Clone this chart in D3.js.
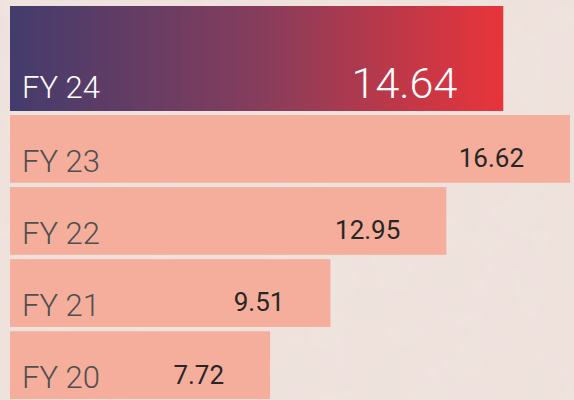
<!DOCTYPE html>
<html>
<head>
<meta charset="utf-8">
<script src="https://cdn.jsdelivr.net/npm/d3@7"></script>
<style>
    html, body { margin: 0; padding: 0; background: #efe3de; overflow: hidden; }
    svg { display: block; }
</style>
</head>
<body>
<div id="chart"></div>
<script>
const years = ['FY 24', 'FY 23', 'FY 22', 'FY 21', 'FY 20'];
const values = [14.64, 16.62, 12.95, 9.51, 7.72];
const labels = ['14.64', '16.62', '12.95', '9.51', '7.72'];

const width = 574;
const height = 400;

const svg = d3.select('#chart')
    .append('svg')
    .attr('width', width)
    .attr('height', height);

// subtle paper texture
const defs = svg.append('defs');
const paper = defs.append('filter').attr('id', 'paper')
    .attr('x', 0).attr('y', 0).attr('width', '100%').attr('height', '100%');
paper.append('feTurbulence')
    .attr('type', 'fractalNoise')
    .attr('baseFrequency', 0.02)
    .attr('numOctaves', 3)
    .attr('seed', 4);
paper.append('feColorMatrix')
    .attr('values', '0 0 0 0 0.80  0 0 0 0 0.68  0 0 0 0 0.66  0 0 0 0.10 0');

svg.append('rect').attr('width', width).attr('height', height).attr('fill', '#efe3de');
svg.append('rect').attr('width', width).attr('height', height).attr('filter', 'url(#paper)');

const grad = defs.append('linearGradient').attr('id', 'hl')
    .attr('x1', '0%').attr('x2', '100%').attr('y1', '0%').attr('y2', '0%');
grad.append('stop').attr('offset', '0%').attr('stop-color', '#433c6d');
grad.append('stop').attr('offset', '50%').attr('stop-color', '#853d5c');
grad.append('stop').attr('offset', '100%').attr('stop-color', '#e9343a');

const x = d3.scaleLinear()
    .domain([0, d3.max(values)])
    .range([10, 570]);

// first (highlighted) bar gets a taller row, the rest share a band scale
const y = d3.scaleBand()
    .domain(years.slice(1))
    .range([115, 399])
    .paddingInner(0.06);

const rows = years.map((yr, i) => ({
    year: yr,
    value: values[i],
    label: labels[i],
    top: i === 0 ? 6 : y(yr),
    h: i === 0 ? 105 : y.bandwidth(),
    first: i === 0
}));

const row = svg.append('g')
    .selectAll('g')
    .data(rows)
    .enter()
    .append('g');

row.append('rect')
    .attr('x', x(0))
    .attr('y', d => d.top)
    .attr('width', d => x(d.value) - x(0))
    .attr('height', d => d.h)
    .attr('fill', d => d.first ? 'url(#hl)' : '#f5ae9b');

row.append('text')
    .attr('x', 22)
    .attr('y', d => d.top + d.h - (d.first ? 13 : 11))
    .attr('font-family', 'Roboto')
    .attr('font-weight', 300)
    .attr('font-size', 31)
    .attr('fill', d => d.first ? '#ffffff' : '#4f4f4f')
    .text(d => d.year);

row.append('text')
    .attr('x', d => x(d.value) - 46)
    .attr('y', d => d.first ? d.top + d.h - 13 : d.top + d.h - 15.5)
    .attr('text-anchor', 'end')
    .attr('font-family', 'Roboto')
    .attr('font-weight', d => d.first ? 300 : 400)
    .attr('font-size', d => d.first ? 43 : 26)
    .attr('fill', d => d.first ? '#ffffff' : '#262626')
    .text(d => d.label);
</script>
</body>
</html>
